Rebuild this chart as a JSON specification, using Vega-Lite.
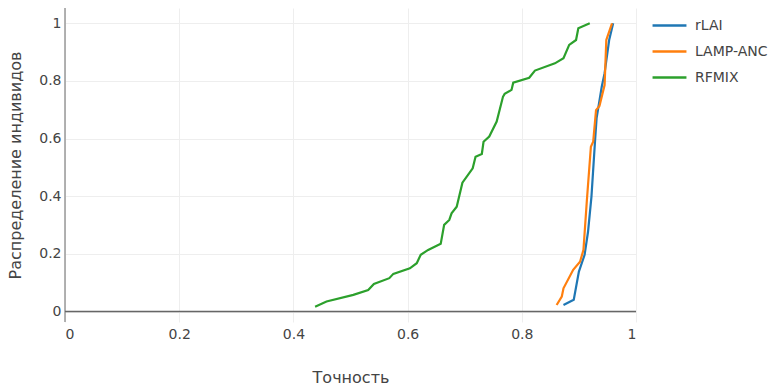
{
  "$schema": "https://vega.github.io/schema/vega-lite/v6.json",
  "width": 571,
  "height": 314,
  "autosize": {"type": "none"},
  "padding": {"left": 65, "top": 8, "right": 134, "bottom": 64},
  "config": {"view": {"stroke": null}, "font": "DejaVu Sans"},
  "datasets": {
    "zero": [{"v": 0}],
    "curves": [
      {"method": "rLAI", "acc": 0.873, "frac": 0.023},
      {"method": "rLAI", "acc": 0.891, "frac": 0.041},
      {"method": "rLAI", "acc": 0.900, "frac": 0.139},
      {"method": "rLAI", "acc": 0.910, "frac": 0.197},
      {"method": "rLAI", "acc": 0.916, "frac": 0.277},
      {"method": "rLAI", "acc": 0.922, "frac": 0.399},
      {"method": "rLAI", "acc": 0.928, "frac": 0.584},
      {"method": "rLAI", "acc": 0.931, "frac": 0.671},
      {"method": "rLAI", "acc": 0.940, "frac": 0.780},
      {"method": "rLAI", "acc": 0.945, "frac": 0.827},
      {"method": "rLAI", "acc": 0.953, "frac": 0.942},
      {"method": "rLAI", "acc": 0.960, "frac": 1.0},
      {"method": "LAMP-ANC", "acc": 0.861, "frac": 0.023},
      {"method": "LAMP-ANC", "acc": 0.870, "frac": 0.052},
      {"method": "LAMP-ANC", "acc": 0.873, "frac": 0.081},
      {"method": "LAMP-ANC", "acc": 0.890, "frac": 0.145},
      {"method": "LAMP-ANC", "acc": 0.902, "frac": 0.173},
      {"method": "LAMP-ANC", "acc": 0.908, "frac": 0.214},
      {"method": "LAMP-ANC", "acc": 0.914, "frac": 0.387},
      {"method": "LAMP-ANC", "acc": 0.921, "frac": 0.572},
      {"method": "LAMP-ANC", "acc": 0.925, "frac": 0.589},
      {"method": "LAMP-ANC", "acc": 0.930, "frac": 0.699},
      {"method": "LAMP-ANC", "acc": 0.936, "frac": 0.713},
      {"method": "LAMP-ANC", "acc": 0.945, "frac": 0.786},
      {"method": "LAMP-ANC", "acc": 0.948, "frac": 0.942},
      {"method": "LAMP-ANC", "acc": 0.958, "frac": 1.0},
      {"method": "RFMIX", "acc": 0.438, "frac": 0.017},
      {"method": "RFMIX", "acc": 0.458, "frac": 0.035},
      {"method": "RFMIX", "acc": 0.505, "frac": 0.058},
      {"method": "RFMIX", "acc": 0.531, "frac": 0.075},
      {"method": "RFMIX", "acc": 0.541, "frac": 0.096},
      {"method": "RFMIX", "acc": 0.568, "frac": 0.116},
      {"method": "RFMIX", "acc": 0.575, "frac": 0.131},
      {"method": "RFMIX", "acc": 0.604, "frac": 0.150},
      {"method": "RFMIX", "acc": 0.616, "frac": 0.168},
      {"method": "RFMIX", "acc": 0.623, "frac": 0.197},
      {"method": "RFMIX", "acc": 0.636, "frac": 0.214},
      {"method": "RFMIX", "acc": 0.658, "frac": 0.235},
      {"method": "RFMIX", "acc": 0.664, "frac": 0.301},
      {"method": "RFMIX", "acc": 0.673, "frac": 0.318},
      {"method": "RFMIX", "acc": 0.677, "frac": 0.341},
      {"method": "RFMIX", "acc": 0.686, "frac": 0.364},
      {"method": "RFMIX", "acc": 0.696, "frac": 0.447},
      {"method": "RFMIX", "acc": 0.714, "frac": 0.497},
      {"method": "RFMIX", "acc": 0.719, "frac": 0.537},
      {"method": "RFMIX", "acc": 0.730, "frac": 0.547},
      {"method": "RFMIX", "acc": 0.733, "frac": 0.589},
      {"method": "RFMIX", "acc": 0.743, "frac": 0.607},
      {"method": "RFMIX", "acc": 0.756, "frac": 0.659},
      {"method": "RFMIX", "acc": 0.767, "frac": 0.745},
      {"method": "RFMIX", "acc": 0.770, "frac": 0.755},
      {"method": "RFMIX", "acc": 0.782, "frac": 0.769},
      {"method": "RFMIX", "acc": 0.785, "frac": 0.794},
      {"method": "RFMIX", "acc": 0.813, "frac": 0.811},
      {"method": "RFMIX", "acc": 0.823, "frac": 0.836},
      {"method": "RFMIX", "acc": 0.858, "frac": 0.861},
      {"method": "RFMIX", "acc": 0.873, "frac": 0.879},
      {"method": "RFMIX", "acc": 0.883, "frac": 0.925},
      {"method": "RFMIX", "acc": 0.895, "frac": 0.942},
      {"method": "RFMIX", "acc": 0.899, "frac": 0.983},
      {"method": "RFMIX", "acc": 0.919, "frac": 1.0}
    ]
  },
  "layer": [
    {
      "data": {"name": "curves"},
      "mark": {"type": "line", "strokeWidth": 2, "opacity": 0},
      "encoding": {
        "x": {
          "field": "acc", "type": "quantitative",
          "scale": {"domain": [0, 1], "nice": false, "zero": false},
          "axis": {
            "title": "Точность", "values": [0, 0.2, 0.4, 0.6, 0.8, 1], "format": "~g",
            "domain": false, "ticks": false, "grid": true, "gridColor": "#eeeeee", "gridWidth": 1,
            "labelFont": "DejaVu Sans", "labelFontSize": 14, "labelColor": "#444444", "labelPadding": 5,
            "titleFont": "DejaVu Sans", "titleFontSize": 16, "titleFontWeight": "normal", "titleColor": "#444444", "titlePadding": 28
          }
        },
        "y": {
          "field": "frac", "type": "quantitative",
          "scale": {"domain": [-0.036, 1.053], "nice": false, "zero": false},
          "axis": {
            "title": "Распределение индивидов", "values": [0, 0.2, 0.4, 0.6, 0.8, 1], "format": "~g",
            "domain": false, "ticks": false, "grid": true, "gridColor": "#eeeeee", "gridWidth": 1,
            "labelFont": "DejaVu Sans", "labelFontSize": 14, "labelColor": "#444444", "labelPadding": 4,
            "titleFont": "DejaVu Sans", "titleFontSize": 16, "titleFontWeight": "normal", "titleColor": "#444444", "titlePadding": 15
          }
        }
      }
    },
    {
      "data": {"name": "zero"},
      "mark": {"type": "rule", "color": "#999999", "strokeWidth": 1.5},
      "encoding": {"x": {"field": "v", "type": "quantitative"}}
    },
    {
      "data": {"name": "zero"},
      "mark": {"type": "rule", "color": "#666666", "strokeWidth": 1.5},
      "encoding": {"y": {"field": "v", "type": "quantitative"}}
    },
    {
      "data": {"name": "curves"},
      "mark": {"type": "line", "strokeWidth": 2.2},
      "encoding": {
        "x": {"field": "acc", "type": "quantitative"},
        "y": {"field": "frac", "type": "quantitative"},
        "color": {
          "field": "method", "type": "nominal",
          "scale": {"domain": ["rLAI", "LAMP-ANC", "RFMIX"], "range": ["#1f77b4", "#ff7f0e", "#2ca02c"]},
          "legend": {
            "title": null, "orient": "none", "legendX": 586, "legendY": -1,
            "symbolType": "stroke", "symbolSize": 1150, "symbolStrokeWidth": 2.5,
            "labelFont": "DejaVu Sans", "labelFontSize": 14, "labelColor": "#444444",
            "labelOffset": 7, "rowPadding": -18
          }
        }
      }
    }
  ]
}
